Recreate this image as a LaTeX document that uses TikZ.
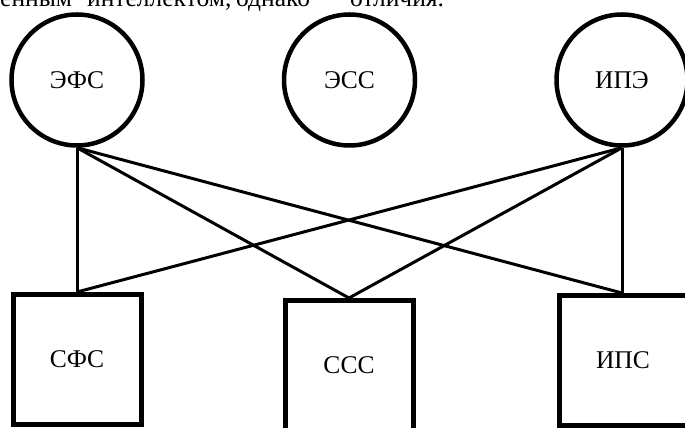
\documentclass[tikz,border=0pt]{standalone}
\usepackage{fontspec}
\setmainfont{Liberation Serif}
\begin{document}
\begin{tikzpicture}[x=1pt,y=1pt,
  font=\fontsize{25.5}{30}\selectfont,
  roundbox/.style={draw, circle, line width=4.5pt, minimum size=131pt, inner sep=0pt},
  squarebox/.style={draw, rectangle, line width=5pt, minimum width=128pt, minimum height=130pt, inner sep=0pt},
  link/.style={line width=3pt},
  bodytext/.style={anchor=base west, inner sep=0pt}]
\useasboundingbox (0,0) rectangle (685,428);

% running text of the page above the figure
\node[bodytext] (w1) at (0,421) {енным};
\node[bodytext] (w2) at (87,421) {интеллектом,};
\node[bodytext] (w3) at (236,421) {однако};
\node[bodytext] (w4) at (350,421) {отличия.};

% upper row
\node[roundbox] (efs) at (77,348) {ЭФС};
\node[roundbox] (ess) at (349.5,348) {ЭСС};
\node[roundbox] (ipe) at (622,348) {ИПЭ};

% lower row
\node[squarebox] (sfs) at (77,68.5) {СФС};
\node[squarebox] (sss) at (349,62.5) {ССС};
\node[squarebox] (ips) at (623,67.5) {ИПС};

% links
\draw[link] (efs.south) -- (efs.south |- sfs.north);
\draw[link] (efs.south) -- (sss.north);
\draw[link] (efs.south) -- (ipe.south |- ips.north);
\draw[link] (ipe.south) -- (efs.south |- sfs.north);
\draw[link] (ipe.south) -- (sss.north);
\draw[link] (ipe.south) -- (ipe.south |- ips.north);
\end{tikzpicture}
\end{document}
